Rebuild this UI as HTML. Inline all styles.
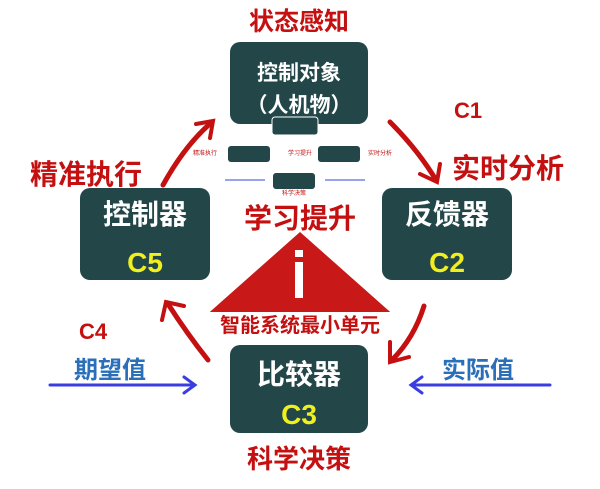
<!DOCTYPE html>
<html><head><meta charset="utf-8"><style>
html,body{margin:0;padding:0;background:#fff;}
svg{display:block;font-family:"Liberation Sans","Noto Sans CJK SC",sans-serif;font-weight:bold;}
</style></head><body>
<svg width="600" height="489" viewBox="0 0 600 489" xmlns="http://www.w3.org/2000/svg">
<!-- big red arcs -->
<g fill="none" stroke="#c41010" stroke-width="5" stroke-linecap="round">
<path d="M163,185 Q185,145 212,122"/>
<path d="M196,124 L213,121 L210,138" stroke-width="4"/>
<path d="M390,122 Q418,150 436,180"/>
<path d="M420,174 L437,182 L440,164" stroke-width="4"/>
<path d="M424,306 Q414,338 392,360"/>
<path d="M390,342 L390,362 L409,357" stroke-width="4"/>
<path d="M208,360 Q188,335 168,304"/>
<path d="M162,320 L166,302 L184,306" stroke-width="4"/>
</g>
<!-- triangle -->
<polygon points="300,232 203,318 397,318" fill="#c81818"/>
<rect x="295" y="262" width="8" height="36" fill="#fff"/>
<rect x="295" y="250" width="8" height="7" fill="#fff"/>
<rect x="196" y="312" width="206" height="26" fill="#fff"/>
<text x="300" y="332" font-size="20" fill="#c41010" text-anchor="middle">智能系统最小单元</text>
<!-- boxes -->
<g fill="#234749">
<rect x="230" y="42" width="138" height="82" rx="10"/>
<rect x="80" y="188" width="130" height="92" rx="10"/>
<rect x="382" y="188" width="130" height="92" rx="10"/>
<rect x="230" y="345" width="138" height="88" rx="10"/>
</g>
<g fill="#fff" text-anchor="middle">
<text x="299" y="80" font-size="21">控制对象</text>
<text x="299" y="112" font-size="21">（人机物）</text>
<text x="145" y="224" font-size="28">控制器</text>
<text x="447" y="224" font-size="28">反馈器</text>
<text x="299" y="384" font-size="28">比较器</text>
</g>
<g fill="#f0f020" text-anchor="middle" font-size="28">
<text x="145" y="272">C5</text>
<text x="447" y="272">C2</text>
<text x="299" y="424">C3</text>
</g>
<!-- mini inset -->
<rect x="272" y="117" width="46" height="18" rx="3" fill="#234749" stroke="#fff" stroke-width="1"/>
<g fill="#234749">
<rect x="228" y="146" width="42" height="16" rx="3"/>
<rect x="318" y="146" width="42" height="16" rx="3"/>
<rect x="273" y="173" width="42" height="16" rx="3"/>
</g>
<g fill="#c41010" font-size="6" text-anchor="middle" font-weight="normal">
<text x="205" y="155">精准执行</text><text x="300" y="155">学习提升</text><text x="380" y="155">实时分析</text>
<text x="294" y="195">科学决策</text>
</g>
<g stroke="#3344dd" stroke-width="1"><line x1="225" y1="180" x2="265" y2="180"/><line x1="325" y1="180" x2="365" y2="180"/></g>
<!-- red labels -->
<g fill="#c41010" text-anchor="middle">
<text x="299" y="30" font-size="25">状态感知</text>
<text x="86" y="184" font-size="28">精准执行</text>
<text x="508" y="178" font-size="28">实时分析</text>
<text x="300" y="228" font-size="28">学习提升</text>
<text x="299" y="468" font-size="26">科学决策</text>
<text x="468" y="118" font-size="22">C1</text>
<text x="93" y="339" font-size="22">C4</text>
</g>
<!-- blue -->
<g fill="#2a6fb8" font-size="24" text-anchor="middle">
<text x="110" y="378">期望值</text>
<text x="478" y="378">实际值</text>
</g>
<g stroke="#3a3ee0" stroke-width="3" fill="none" stroke-linecap="round">
<line x1="50" y1="385" x2="194" y2="385"/><path d="M184,377 L195,385 L184,393"/>
<line x1="412" y1="385" x2="550" y2="385"/><path d="M422,377 L411,385 L422,393"/>
</g>
</svg>
</body></html>
